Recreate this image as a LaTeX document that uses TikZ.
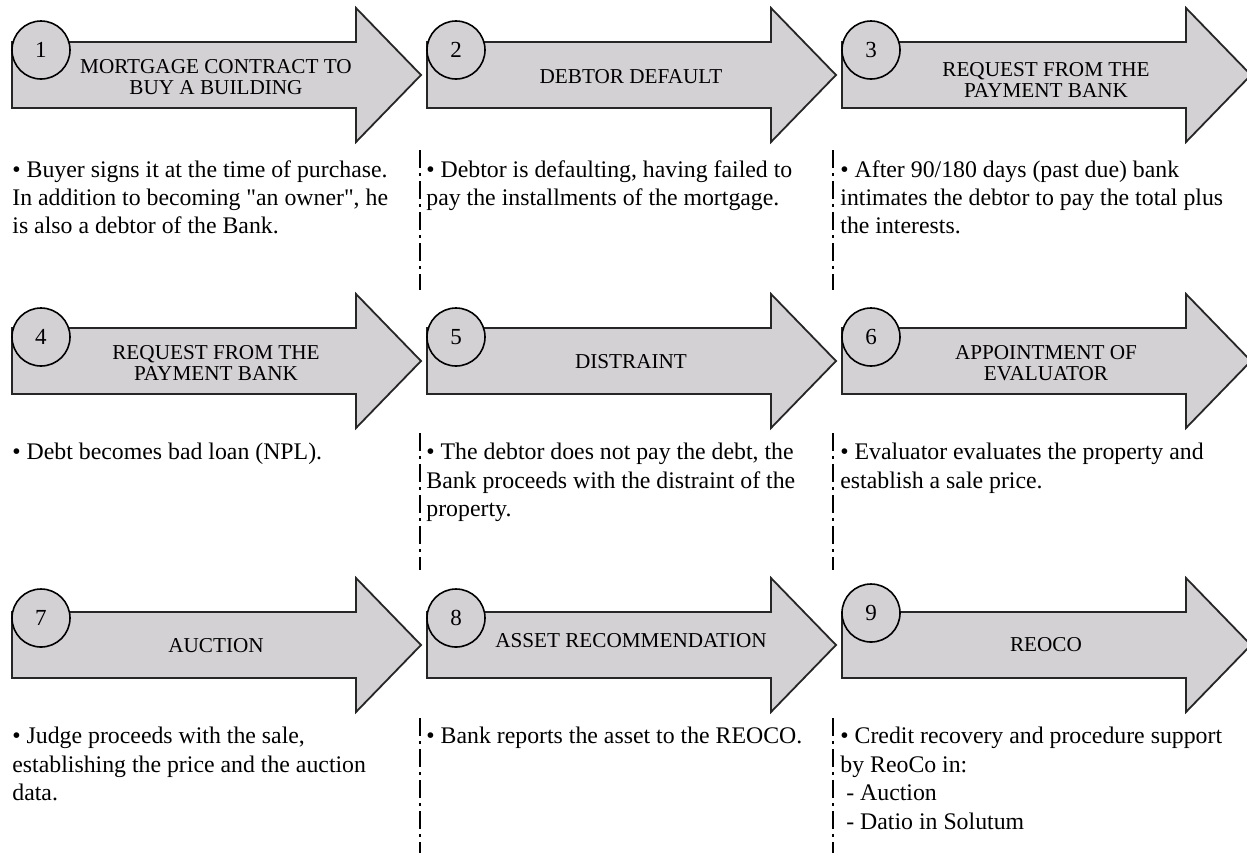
\documentclass[tikz,border=0pt]{standalone}
\usepackage{fontspec}
\setmainfont{Liberation Serif}
\definecolor{sgray}{RGB}{212,209,212}

\begin{document}
\begin{tikzpicture}[x=0.5pt,y=-0.5pt,
  stagearrow/.style={draw=black!85,line width=0.9pt,fill=sgray,line join=miter},
  numcircle/.style={circle,draw=black,line width=0.8pt,fill=sgray,minimum size=29pt,
                    inner sep=0pt,font=\fontsize{11.5}{13}\selectfont},
  stagelabel/.style={align=center,inner sep=0pt,font=\fontsize{10.6}{10.6}\selectfont},
  notetext/.style={anchor=north west,align=left,inner sep=0pt,
                   font=\fontsize{11.9}{14.2}\selectfont},
  sepline/.style={line width=0.6pt,dash pattern=on 9pt off 2.5pt on 1.5pt off 2.5pt},
]
\useasboundingbox (0,0) rectangle (1247,853);

% row 1
\draw[stagearrow] (12,42) -- ++(344,0) -- ++(0,-34) -- ++(65,67) -- ++(-65,67) -- ++(0,-34) -- ++(-344,0) -- cycle;
\draw[stagearrow] (427,42) -- ++(344,0) -- ++(0,-34) -- ++(65,67) -- ++(-65,67) -- ++(0,-34) -- ++(-344,0) -- cycle;
\draw[stagearrow] (842,42) -- ++(344,0) -- ++(0,-34) -- ++(65,67) -- ++(-65,67) -- ++(0,-34) -- ++(-344,0) -- cycle;
\node[numcircle] (num1) at (41,50) {1};
\node[numcircle] (num2) at (456,50) {2};
\node[numcircle] (num3) at (871,50) {3};
\node[stagelabel] (lab1) at (216,77) {MORTGAGE CONTRACT TO\\BUY A BUILDING};
\node[stagelabel] (lab2) at (631,77) {DEBTOR DEFAULT};
\node[stagelabel] (lab3) at (1046,80) {REQUEST FROM THE\\PAYMENT BANK};
\node[notetext] (txt1) at (12,160) {• Buyer signs it at the time of purchase.\\
  In addition to becoming \textquotedbl an owner\textquotedbl, he\\is also a debtor of the Bank.};
\node[notetext] (txt2) at (426,160) {• Debtor is defaulting, having failed to\\
  pay the installments of the mortgage.};
\node[notetext] (txt3) at (840,160) {• After 90/180 days (past due) bank\\
  intimates the debtor to pay the total plus\\the interests.};
\draw[sepline] (420,150) -- (420,290);
\draw[sepline] (833,150) -- (833,290);

% row 2
\draw[stagearrow] (12,328) -- ++(344,0) -- ++(0,-34) -- ++(65,67) -- ++(-65,67) -- ++(0,-34) -- ++(-344,0) -- cycle;
\draw[stagearrow] (427,328) -- ++(344,0) -- ++(0,-34) -- ++(65,67) -- ++(-65,67) -- ++(0,-34) -- ++(-344,0) -- cycle;
\draw[stagearrow] (842,328) -- ++(344,0) -- ++(0,-34) -- ++(65,67) -- ++(-65,67) -- ++(0,-34) -- ++(-344,0) -- cycle;
\node[numcircle] (num4) at (41,337) {4};
\node[numcircle] (num5) at (456,337) {5};
\node[numcircle] (num6) at (871,337) {6};
\node[stagelabel] (lab4) at (216,363) {REQUEST FROM THE\\PAYMENT BANK};
\node[stagelabel] (lab5) at (631,362) {DISTRAINT};
\node[stagelabel] (lab6) at (1046,363) {APPOINTMENT OF\\EVALUATOR};
\node[notetext] (txt4) at (12,443) {• Debt becomes bad loan (NPL).};
\node[notetext] (txt5) at (426,443) {• The debtor does not pay the debt, the\\
  Bank proceeds with the distraint of the\\property.};
\node[notetext] (txt6) at (840,443) {• Evaluator evaluates the property and\\
  establish a sale price.};
\draw[sepline] (420,433) -- (420,570);
\draw[sepline] (833,433) -- (833,570);

% row 3
\draw[stagearrow] (12,612) -- ++(344,0) -- ++(0,-34) -- ++(65,67) -- ++(-65,67) -- ++(0,-34) -- ++(-344,0) -- cycle;
\draw[stagearrow] (427,612) -- ++(344,0) -- ++(0,-34) -- ++(65,67) -- ++(-65,67) -- ++(0,-34) -- ++(-344,0) -- cycle;
\draw[stagearrow] (842,612) -- ++(344,0) -- ++(0,-34) -- ++(65,67) -- ++(-65,67) -- ++(0,-34) -- ++(-344,0) -- cycle;
\node[numcircle] (num7) at (41,618) {7};
\node[numcircle] (num8) at (456,618) {8};
\node[numcircle] (num9) at (871,613) {9};
\node[stagelabel] (lab7) at (216,646) {AUCTION};
\node[stagelabel] (lab8) at (631,641) {ASSET RECOMMENDATION};
\node[stagelabel] (lab9) at (1046,645) {REOCO};
\node[notetext] (txt7) at (12,727) {• Judge proceeds with the sale,\\
  establishing the price and the auction\\data.};
\node[notetext] (txt8) at (426,727) {• Bank reports the asset to the REOCO.};
\node[notetext] (txt9) at (840,727) {• Credit recovery and procedure support\\
  by ReoCo in:\\\ - Auction\\\ - Datio in Solutum};
\draw[sepline] (420,718) -- (420,853);
\draw[sepline] (833,718) -- (833,853);
\end{tikzpicture}
\end{document}
